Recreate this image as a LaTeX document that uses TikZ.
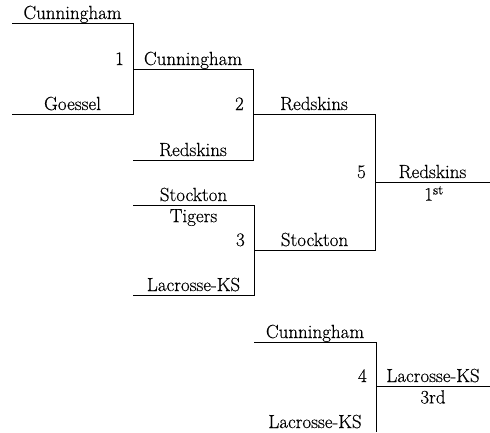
\documentclass[tikz,border=0pt]{standalone}
\usepackage{fontspec}
\setmainfont{Latin Modern Roman}[FakeBold=0.35]
\begin{document}
\begin{tikzpicture}[x=1pt,y=-1pt,
  line/.style={line width=0.9pt},
  team/.style={font=\rmfamily\fontsize{19}{23}\selectfont, inner sep=0pt, anchor=base},
  below/.style={font=\rmfamily\fontsize{19}{23}\selectfont, inner sep=0pt, anchor=north},
  gamenum/.style={font=\rmfamily\fontsize{19}{23}\selectfont, inner sep=0pt, anchor=base east}]
\useasboundingbox (0,0) rectangle (490,432);
% match 1
\coordinate (m1a) at (12,23);  \coordinate (m1b) at (133,23);
\coordinate (m1c) at (133,114); \coordinate (m1d) at (12,114);
\coordinate (m1o) at (133,69); \coordinate (m1e) at (253,69);
% match 2
\coordinate (m2c) at (253,160); \coordinate (m2d) at (133,160);
\coordinate (m2o) at (253,114); \coordinate (m2e) at (375,114);
% match 3
\coordinate (m3a) at (133,205); \coordinate (m3b) at (254,205);
\coordinate (m3c) at (254,295); \coordinate (m3d) at (133,295);
\coordinate (m3o) at (254,250); \coordinate (m3e) at (375,250);
% match 5
\coordinate (m5o) at (375,182); \coordinate (m5e) at (490,182);
% match 4
\coordinate (m4a) at (254,342); \coordinate (m4b) at (376,342);
\coordinate (m4c) at (376,432);
\coordinate (m4o) at (376,386); \coordinate (m4e) at (490,386);

\draw[line] (m1a) -- (m1b) -- (m1c) -- (m1d);
\draw[line] (m1o) -- (m1e) -- (m2c) -- (m2d);
\draw[line] (m2o) -- (m2e) -- (m3e) -- (m3o);
\draw[line] (m3a) -- (m3b) -- (m3c) -- (m3d);
\draw[line] (m5o) -- (m5e);
\draw[line] (m4a) -- (m4b) -- (m4c);
\draw[line] (m4o) -- (m4e);

% labels
\node[team] (t1) at (72.5,19) {Cunningham};
\node[team] (t2) at (72.5,110) {Goessel};
\node[gamenum] (g1) at (124,65) {1};
\node[team] (t3) at (193,65) {Cunningham};
\node[team] (t4) at (193,156) {Redskins};
\node[gamenum] (g2) at (244,110) {2};
\node[team] (t5) at (314,110) {Redskins};
\node[team] (t6) at (193.5,201) {Stockton};
\node[below] (t7) at (193.5,209) {Tigers};
\node[gamenum] (g3) at (245,246) {3};
\node[team] (t8) at (193.5,291) {Lacrosse-KS};
\node[team] (t9) at (314.5,246) {Stockton};
\node[gamenum] (g5) at (366,178) {5};
\node[team] (t10) at (432.5,178) {Redskins};
\node[below] (t11) at (434,186) {1\textsuperscript{st}};
\node[team] (t12) at (315,338) {Cunningham};
\node[gamenum] (g4) at (367,382) {4};
\node[team] (t13) at (433,382) {Lacrosse-KS};
\node[below] (t14) at (433,390) {3rd};
\node[team] (t15) at (315,428) {Lacrosse-KS};
\end{tikzpicture}
\end{document}
